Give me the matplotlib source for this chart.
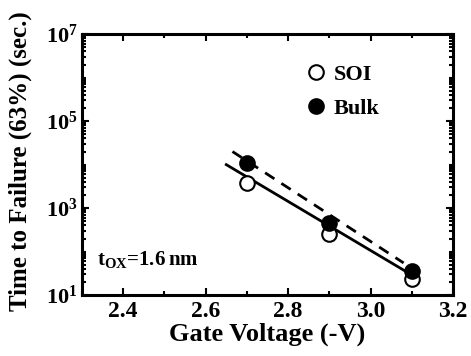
import matplotlib
matplotlib.use("Agg")
import matplotlib.pyplot as plt
from matplotlib.ticker import LogLocator, NullFormatter, FixedLocator, MultipleLocator
import numpy as np

plt.rcParams['font.family'] = ['Liberation Serif', 'DejaVu Serif']
plt.rcParams['font.weight'] = 'bold'
plt.rcParams['mathtext.fontset'] = 'custom'
plt.rcParams['mathtext.rm'] = 'Liberation Serif:bold'
plt.rcParams['mathtext.bf'] = 'Liberation Serif:bold'

voltage = [2.7, 2.9, 3.1]
soi_ttf = [3.8e3, 2.5e2, 23]
bulk_ttf = [1.1e4, 4.6e2, 36]

soi_fit_x = [2.65, 3.10]
soi_fit_y = [1.0e4, 29]
bulk_fit_x = [2.665, 3.08]
bulk_fit_y = [2.0e4, 55]

xticks = [2.4, 2.6, 2.8, 3.0, 3.2]
xticklabels = ["2.4", "2.6", "2.8", "3.0", "3.2"]
yticks = [1e1, 1e3, 1e5, 1e7]
yticklabels = [r"$\mathbf{10^{1}}$", r"$\mathbf{10^{3}}$", r"$\mathbf{10^{5}}$", r"$\mathbf{10^{7}}$"]

fig = plt.figure(figsize=(4.71, 3.56), dpi=100)
ax = fig.add_axes([0.174, 0.171, 0.788, 0.733])

ax.plot(soi_fit_x, soi_fit_y, color='black', lw=2.0, ls='-', zorder=2)
ax.plot(bulk_fit_x, bulk_fit_y, color='black', lw=2.0, ls=(0, (4, 3)), zorder=2)
ax.plot(voltage, soi_ttf, 'o', ms=10.5, mfc='white', mec='black', mew=1.5, ls='none', label='SOI', zorder=3)
ax.plot(voltage, bulk_ttf, 'o', ms=10.5, mfc='black', mec='black', mew=1.5, ls='none', label='Bulk', zorder=4)

ax.set_yscale('log')
ax.set_xlim(2.3, 3.2)
ax.set_ylim(1e1, 1e7)
ax.set_xticks(xticks)
ax.set_xticklabels(xticklabels)
ax.xaxis.set_minor_locator(MultipleLocator(0.1))
ax.yaxis.set_major_locator(FixedLocator(yticks))
ax.set_yticklabels(yticklabels)
ax.yaxis.set_minor_locator(LogLocator(base=10, subs=np.arange(1, 10), numticks=20))
ax.yaxis.set_minor_formatter(NullFormatter())

ax.tick_params(which='both', direction='in', top=True, right=True, width=1.5)
ax.tick_params(which='major', length=5)
ax.tick_params(which='minor', length=3)
ax.tick_params(axis='x', which='major', labelsize=17, pad=4)
ax.tick_params(axis='y', which='major', labelsize=16, pad=3)
for s in ax.spines.values():
    s.set_linewidth(2.2)

ax.set_xlabel('Gate Voltage (-V)', fontsize=19, fontweight='bold', labelpad=1)
ax.set_ylabel('Time to Failure (63%) (sec.)', fontsize=18, fontweight='bold')
ax.yaxis.set_label_coords(-0.135, 0.515)

ax.text(0.04, 0.135, r'$\mathbf{t_{OX}}$=1.6$\,$nm', transform=ax.transAxes, fontsize=15,
        fontweight='bold', ha='left', va='center')

leg = ax.legend(loc='upper left', bbox_to_anchor=(0.6, 0.885), frameon=False, fontsize=16,
                handletextpad=0.3, labelspacing=0.6, handlelength=1.0, borderaxespad=0,
                borderpad=0)

fig.savefig('out.png', dpi=100)
